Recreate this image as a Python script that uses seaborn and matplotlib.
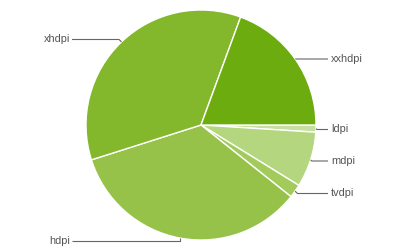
import numpy as np
import matplotlib
matplotlib.use("Agg")
import matplotlib.pyplot as plt
import seaborn as sns

# data (clockwise from 3 o'clock)
labels = ["ldpi", "mdpi", "tvdpi", "hdpi", "xhdpi", "xxhdpi"]
shares = [1.0, 7.8, 1.9, 34.4, 35.5, 19.4]
colors = ["#C6E0A2", "#B4D67F", "#A3CB5C", "#96C24A", "#83B82C", "#6CAC0E"]

sns.set_theme(style="white")
plt.rcParams["font.family"] = ["Liberation Sans", "DejaVu Sans"]

W, H = 400, 250
fig = plt.figure(figsize=(4, 2.5), dpi=100)
ax = fig.add_axes([0, 0, 1, 1])

cx, cy, R = 201, 125, 115
wedges, _ = ax.pie(shares, colors=colors, startangle=0, counterclock=False,
                   center=(cx, H - cy), radius=R,
                   wedgeprops=dict(edgecolor="white", linewidth=1.0))
ax.set_xlim(0, W)
ax.set_ylim(0, H)
ax.set_aspect("equal")
ax.axis("off")

# label layout (pixel rows, top-down)
label_rows = {"ldpi": 129.5, "mdpi": 161, "tvdpi": 193.5, "hdpi": 241,
              "xhdpi": 39.5, "xxhdpi": 59}
line_col = "#666666"
txt_col = "#555555"
for w, lab in zip(wedges, labels):
    mid = np.deg2rad((w.theta1 + w.theta2) / 2)
    ax_ = cx + R * np.cos(mid)
    ay_ = H - cy + R * np.sin(mid)
    ly = H - label_rows[lab]
    if np.cos(mid) >= 0:
        ex = ax_ + abs(ly - ay_) if abs(ly - ay_) < 6 else ax_
        xs = [ax_, ex, 328]
        ys = [ay_, ly, ly]
        ax.plot(xs, ys, color=line_col, lw=0.8, solid_capstyle="butt")
        ax.text(331, ly, lab, ha="left", va="center", fontsize=7.9, color=txt_col)
    else:
        if lab == "hdpi":
            xs = [ax_, ax_, 72]
            ys = [ay_, ly, ly]
        else:
            xs = [ax_, ax_ - abs(ly - ay_), 72]
            ys = [ay_, ly, ly]
        ax.plot(xs, ys, color=line_col, lw=0.8, solid_capstyle="butt")
        ax.text(70, ly, lab, ha="right", va="center", fontsize=7.9, color=txt_col)

fig.savefig("out.png", dpi=100, facecolor="white")
